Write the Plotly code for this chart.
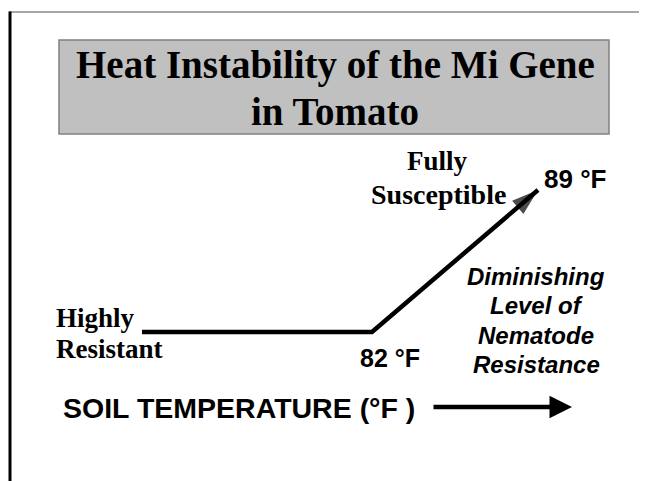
import plotly.graph_objects as go

# ---- data ----
temperatures_f = [72.3, 82, 89]          # soil temperature, deg F
resistance_pct = [100, 100, 0]           # nematode resistance level (%)
title_lines = ["Heat Instability of the Mi Gene", "in Tomato"]
left_label = ["Highly", "Resistant"]
top_label = ["Fully", "Susceptible"]
side_label = ["Diminishing", "Level of", "Nematode", "Resistance"]
point_labels = ["82 °F", "89 °F"]
axis_label = "SOIL TEMPERATURE (°F )"

# page window is 647x481, the html body has an 8px margin
PW, PH, OFF = 647, 481, 8
W, H = PW - OFF, PH - OFF

# pixel anchors (page coordinates) for the data scales
T_A, T_B, TX_A, TX_B = 82, 89, 372, 538
R_A, R_B, RY_A, RY_B = 100, 0, 332, 190
t_per_px = (T_B - T_A) / (TX_B - TX_A)
r_per_px = (R_B - R_A) / (RY_B - RY_A)
x2_range = [T_A + (OFF - TX_A) * t_per_px, T_A + (PW - TX_A) * t_per_px]
y2_range = [R_A + (PH - RY_A) * r_per_px, R_A + (OFF - RY_A) * r_per_px]

SERIF = "Liberation Serif, Times New Roman, serif"
SANS = "Liberation Sans, Arial, sans-serif"

fig = go.Figure()
fig.add_trace(go.Scatter(
    x=temperatures_f, y=resistance_pct, xaxis="x2", yaxis="y2",
    mode="lines+markers",
    line=dict(color="black", width=4.5),
    marker=dict(symbol=["circle", "circle", "arrow"], size=[0, 0, 28],
                angleref="previous", color="black", line=dict(width=0)),
    showlegend=False, hoverinfo="skip",
))

ann = []
def txt(s, x, y, size, family, xanchor="center", italic=False):
    t = f"<b>{s}</b>"
    if italic:
        t = f"<i>{t}</i>"
    ann.append(dict(text=t, x=x, y=y, xref="x", yref="y", showarrow=False,
                    xanchor=xanchor, yanchor="middle",
                    font=dict(family=family, size=size, color="black")))

txt(title_lines[0], 335, 65, 39, SERIF)
txt(title_lines[1], 335, 111.5, 39, SERIF)
txt(top_label[0], 437.5, 161, 27, SERIF)
txt(top_label[1], 438, 194, 28, SERIF)
txt(left_label[0], 54, 317.5, 27, SERIF, xanchor="left")
txt(left_label[1], 54, 348.5, 27, SERIF, xanchor="left")
txt(point_labels[1], 574.5, 178.5, 26, SANS)
txt(point_labels[0], 390, 358, 25, SANS)
for i, s in enumerate(side_label):
    txt(s, 536, 276 + 29.5 * i, 24, SANS, italic=True)
txt(axis_label, 61, 407.5, 28.5, SANS, xanchor="left")

# decorative axis arrow
ann.append(dict(text="", x=572, y=407, ax=432, ay=407, xref="x", yref="y",
                axref="x", ayref="y", showarrow=True, arrowhead=2,
                arrowsize=1.0, arrowwidth=4.5, arrowcolor="black"))

shapes = [
    dict(type="rect", xref="x", yref="y", x0=59, x1=609, y0=40, y1=134,
         fillcolor="#c0c0c0", line=dict(color="#808080", width=1.5), layer="below"),
    dict(type="line", xref="x", yref="y", x0=9, x1=PW, y0=12, y1=12,
         line=dict(color="#505050", width=1)),
    dict(type="line", xref="x", yref="y", x0=10, x1=10, y0=11.5, y1=PH,
         line=dict(color="black", width=3)),
]

fig.update_layout(
    width=W, height=H, autosize=False,
    margin=dict(l=0, r=0, t=0, b=0),
    paper_bgcolor="white", plot_bgcolor="white",
    xaxis=dict(range=[OFF, PW], visible=False, fixedrange=True),
    yaxis=dict(range=[PH, OFF], visible=False, fixedrange=True),
    xaxis2=dict(range=x2_range, overlaying="x", visible=False),
    yaxis2=dict(range=y2_range, overlaying="y", visible=False),
    annotations=ann, shapes=shapes,
)

fig.write_html("out.html")
